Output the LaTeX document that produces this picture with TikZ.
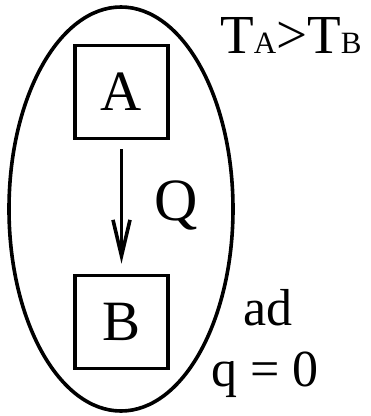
\documentclass[tikz,border=0pt]{standalone}
\usepackage{fontspec}
\setmainfont{Liberation Serif}
\usetikzlibrary{arrows.meta}

\begin{document}
\begin{tikzpicture}[x=1pt, y=-1pt]
  % parameters
  \def\w{3.6pt}  % stroke width
  \def\s{93pt}   % side of the boxes

  \tikzset{
    box/.style={draw, line width=\w, minimum size=\s, inner sep=0pt,
      font=\fontsize{57}{60}\selectfont},
    lbl/.style={inner sep=0pt, anchor=base west,
      font=\fontsize{52}{56}\selectfont},
    flow/.style={line width=\w, -{Straight Barb[length=36pt, width=17pt, line width=\w]},
      shorten <=9pt, shorten >=10pt}
  }

  \useasboundingbox (0,0) rectangle (371,416);

  % system boundary
  \draw[line width=\w] (121,209) ellipse [x radius=112pt, y radius=202pt];

  % bodies
  \node[box] (A) at (121.5,92) {A};
  \node[box] (B) at (121.5,322) {B};

  % heat flow
  \draw[flow] (A) -- (B);
  \node[lbl, font=\fontsize{60}{60}\selectfont] (Q) at (154,220) {Q};

  % labels
  \node[lbl, font=\fontsize{55}{56}\selectfont] (temp) at (220,53)
    {T{\fontsize{31}{30}\selectfont A}>T{\fontsize{31}{30}\selectfont B}};
  \node[lbl] (ad) at (243,325) {ad};
  \node[lbl] (q) at (211,386) {q = 0};
\end{tikzpicture}
\end{document}
